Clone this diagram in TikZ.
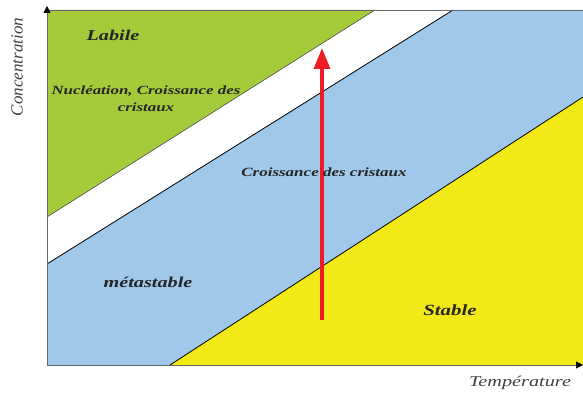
\documentclass[tikz,border=0pt]{standalone}
\usepackage{fontspec}
\setmainfont{Liberation Serif}
\newfontfamily\widefont[FakeStretch=1.35]{Liberation Serif}
\usetikzlibrary{arrows.meta}
\definecolor{labgreen}{RGB}{164,204,58}
\definecolor{metblue}{RGB}{159,200,234}
\definecolor{stabyellow}{RGB}{242,233,22}
\definecolor{arrowred}{RGB}{238,28,37}
\tikzset{
  zone/.style={text=black!85},
  axislabel/.style={text=black!75},
  bound/.style={black,line width=.8pt}
}
\begin{document}
\begin{tikzpicture}[x=1pt,y=-1pt,>=Stealth]
  \useasboundingbox (0,0) rectangle (583,395);
  \coordinate (O) at (47,365);
  \coordinate (top) at (47,6);
  \coordinate (right) at (583,365);
  % zones
  \fill[labgreen] (47,10)--(375,10)--(47,217)--cycle;
  \fill[metblue] (453,10)--(583,10)--(583,97)--(170,365)--(47,365)--(47,264)--cycle;
  \fill[stabyellow] (583,97)--(583,365)--(170,365)--cycle;
  \draw[bound,black!70,line width=.6pt] (47,217)--(375,10);
  \draw[bound] (47,264)--(453,10);
  \draw[bound] (170,365)--(583,97);
  \draw[black!60,line width=.8pt] (47,10)--(583,10);
  % axes
  \draw[black!60,line width=.9pt,-{Triangle[length=7pt,width=7pt,black]}] (O)--(top);
  \draw[black!60,line width=.9pt,-{Triangle[length=7pt,width=7pt,black]}] (O)--(right);
  % arrow
  \coordinate (a0) at (322,320);
  \coordinate (a1) at (322,48);
  \draw[arrowred,line width=3.5pt,-{Triangle[length=21pt,width=16pt]}] (a0)--(a1);
  % labels
  \node[zone,font=\widefont\bfseries\itshape\fontsize{15}{15}\selectfont] (labile) at (113,35) {Labile};
  \node[zone,font=\widefont\bfseries\itshape\fontsize{12.5}{17}\selectfont,align=center] (nucl) at (146,99) {Nucléation, Croissance des\\cristaux};
  \node[zone,font=\widefont\bfseries\itshape\fontsize{12.6}{13}\selectfont] (crois) at (324,172) {Croissance des cristaux};
  \node[zone,font=\widefont\bfseries\itshape\fontsize{15}{15}\selectfont] (meta) at (148,282) {métastable};
  \node[zone,font=\widefont\bfseries\itshape\fontsize{15.5}{16}\selectfont] (stable) at (450,310) {Stable};
  \node[axislabel,rotate=90,font=\itshape\fontsize{17}{17}\selectfont] (conc) at (17,67) {Concentration};
  \node[axislabel,font=\widefont\itshape\fontsize{15}{15}\selectfont] (temp) at (520,383) {Température};
\end{tikzpicture}
\end{document}
